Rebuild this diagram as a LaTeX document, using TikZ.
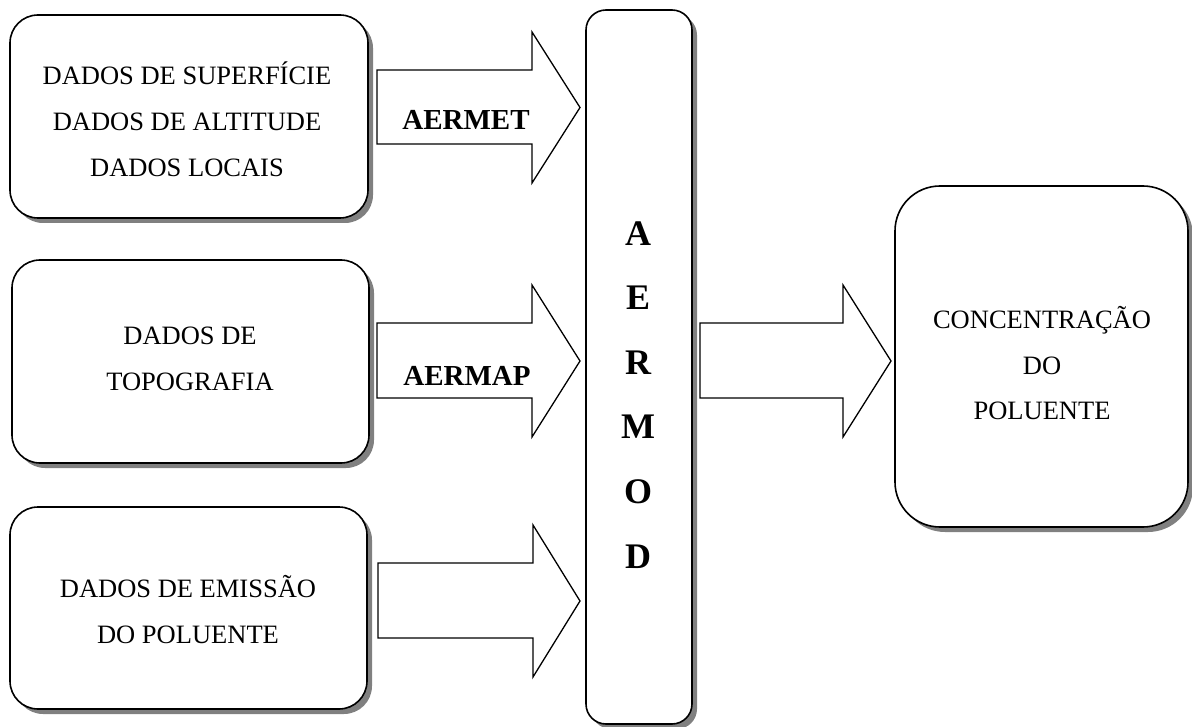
\documentclass[tikz,border=0pt]{standalone}
\usepackage{fontspec}
\setmainfont{Liberation Serif}
\usetikzlibrary{shadows}
\begin{document}
\begin{tikzpicture}[x=1pt,y=-1pt,
  box/.style={draw, line width=1.6pt, fill=white, inner sep=0pt,
    drop shadow={shadow xshift=5pt, shadow yshift=-5pt, fill=black!50, opacity=1}},
  barrow/.style={draw, line width=1.3pt, fill=white, line join=miter},
  txt/.style={font=\fontsize{26.5}{46}\selectfont, align=center, anchor=base, inner sep=0pt},
  lbl/.style={font=\fontsize{29}{30}\selectfont\bfseries, anchor=base, inner sep=0pt},
  vlbl/.style={font=\fontsize{36}{64.6}\selectfont\bfseries, align=center, anchor=base, inner sep=0pt}]
\useasboundingbox (0,0) rectangle (1192,727);

% boxes
\node[box, rounded corners=28pt, minimum width=358pt, minimum height=203pt] (b1) at (189,116.5) {};
\node[box, rounded corners=28pt, minimum width=357pt, minimum height=203pt] (b2) at (190.5,361.5) {};
\node[box, rounded corners=28pt, minimum width=357pt, minimum height=202pt] (b3) at (188.5,608) {};
\node[box, rounded corners=20pt, minimum width=106pt, minimum height=714pt] (m) at (639,367) {};
\node[box, rounded corners=45pt, minimum width=293pt, minimum height=341pt] (r) at (1041.5,356.5) {};

% texts (anchor = baseline of last line)
\node[txt] (t1) at (187,177) {DADOS DE SUPERFÍCIE\\DADOS DE ALTITUDE\\DADOS LOCAIS};
\node[txt] (t2) at (190,391) {DADOS DE\\TOPOGRAFIA};
\node[txt] (t3) at (188,643) {DADOS DE EMISSÃO\\DO POLUENTE};
\node[txt] (t4) at (1042,420) {CONCENTRAÇÃO\\DO\\POLUENTE};
\node[vlbl] (tm) at (638,568) {A\\E\\R\\M\\O\\D};

% block arrows
\draw[barrow] (377,70) -- (532,70) -- (532,32) -- (580,107.5) -- (532,183) -- (532,144) -- (377,144) -- cycle;
\draw[barrow] (377,323) -- (532,323) -- (532,285) -- (580,361) -- (532,437) -- (532,398) -- (377,398) -- cycle;
\draw[barrow] (378,563) -- (533,563) -- (533,525) -- (580,601) -- (533,677) -- (533,638) -- (378,638) -- cycle;
\draw[barrow] (700,323) -- (843,323) -- (843,285) -- (891,361) -- (843,437) -- (843,398) -- (700,398) -- cycle;

% arrow labels
\node[lbl] (l1) at (466,130) {AERMET};
\node[lbl] (l2) at (467,385) {AERMAP};
\end{tikzpicture}
\end{document}
